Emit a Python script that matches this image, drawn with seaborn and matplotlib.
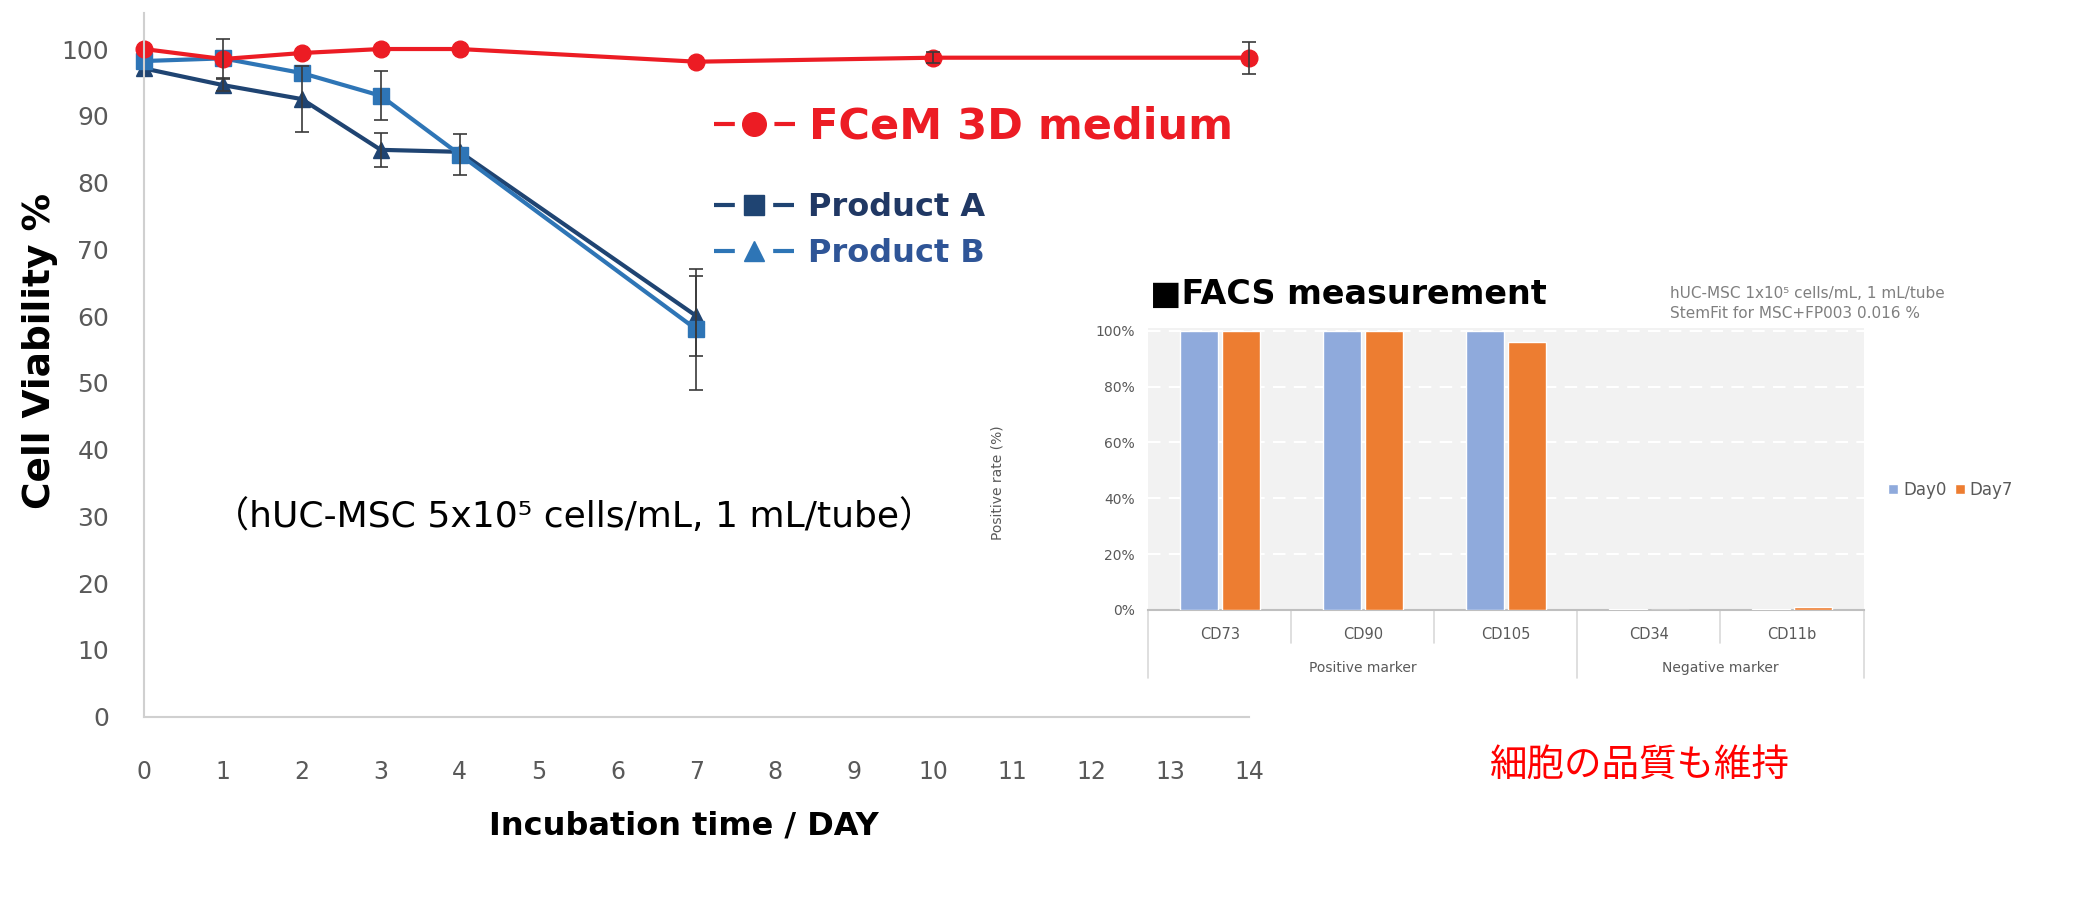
import numpy as np
import pandas as pd
import matplotlib
matplotlib.use("Agg")
import matplotlib.pyplot as plt
import matplotlib.transforms as mtrans
from matplotlib.lines import Line2D
import seaborn as sns

# ---------------- data ----------------
days_fcem = [0, 1, 2, 3, 4, 7, 10, 14]
viab_fcem = [100.0, 98.5, 99.4, 100.0, 100.0, 98.1, 98.7, 98.7]
err_fcem = [0, 0, 0, 0, 0, 0, 0.8, 2.4]

days_prod = [0, 1, 2, 3, 4, 7]
viab_a = [97.1, 94.6, 92.5, 84.9, 84.6, 60.0]
err_a = [0, 0.9, 5.0, 2.5, 0, 6.0]
viab_b = [98.2, 98.6, 96.4, 93.0, 84.2, 58.0]
err_b = [0, 2.9, 0, 3.7, 3.1, 9.0]

x_ticks = list(range(0, 15))
y_ticks = list(range(0, 101, 10))

facs_markers = ["CD73", "CD90", "CD105", "CD34", "CD11b"]
facs_day0 = [100.0, 100.0, 100.0, 0.4, 0.4]
facs_day7 = [100.0, 100.0, 95.8, 0.1, 1.1]
facs_groups = ["Positive marker", "Negative marker"]
facs_group_size = [3, 2]
facs_yticks = [0, 20, 40, 60, 80, 100]

# ---------------- style ----------------
sns.set_theme(style="white")
plt.rcParams["font.family"] = ["DejaVu Sans", "Noto Sans CJK JP"]

RED = "#ec1c24"
NAVY = "#1f4472"
BLUE = "#2e75b6"
GRAY_TXT = "#595959"
SPINE = "#d0d0d0"

fig = plt.figure(figsize=(20.95, 9.13), dpi=100)

# ---------------- main viability chart ----------------
ax = fig.add_axes([0.0687, 0.2150, 0.5275, 0.7708])

df = pd.concat([
    pd.DataFrame({"day": days_fcem, "viability": viab_fcem, "series": "FCeM 3D medium"}),
    pd.DataFrame({"day": days_prod, "viability": viab_a, "series": "Product A"}),
    pd.DataFrame({"day": days_prod, "viability": viab_b, "series": "Product B"}),
], ignore_index=True)

palette = {"FCeM 3D medium": RED, "Product A": NAVY, "Product B": BLUE}
mk = {"FCeM 3D medium": "o", "Product A": "^", "Product B": "s"}
order = ["Product A", "Product B", "FCeM 3D medium"]

sns.lineplot(data=df, x="day", y="viability", hue="series", style="series",
             hue_order=order, style_order=order, palette=palette, markers=mk,
             dashes=False, linewidth=3.0, markersize=12, legend=False, ax=ax,
             sort=False)
for ln in ax.lines:
    ln.set_markeredgecolor(ln.get_color())
    ln.set_markeredgewidth(1.0)
    ln.set_clip_on(False)
    ln.set_zorder(2)

for xs, ys, es in [(days_fcem, viab_fcem, err_fcem),
                   (days_prod, viab_a, err_a),
                   (days_prod, viab_b, err_b)]:
    xs_e = [x for x, e in zip(xs, es) if e > 0]
    ys_e = [y for y, e in zip(ys, es) if e > 0]
    es_e = [e for e in es if e > 0]
    eb = ax.errorbar(xs_e, ys_e, yerr=es_e, fmt="none", ecolor="#3a3a3a",
                     elinewidth=1.2, capsize=5, capthick=1.2, zorder=4)
    for art in eb.lines[1] + eb.lines[2]:
        art.set_clip_on(False)

ax.set_xlim(0, 14)
ax.set_ylim(0, 105.4)
ax.set_xticks(x_ticks)
ax.set_yticks(y_ticks)
ax.set_xticklabels([str(v) for v in x_ticks], fontsize=17, color=GRAY_TXT)
ax.set_yticklabels([str(v) for v in y_ticks], fontsize=18, color=GRAY_TXT)
ax.tick_params(axis="x", direction="out", length=9, width=1.2, color=SPINE, pad=22)
ax.tick_params(axis="y", direction="out", length=7, width=1.2, color=SPINE, pad=18)
for s in ["top", "right"]:
    ax.spines[s].set_visible(False)
for s in ["left", "bottom"]:
    ax.spines[s].set_color(SPINE)
    ax.spines[s].set_linewidth(1.5)

ax.set_xlabel("Incubation time / DAY", fontsize=23, fontweight="bold", color="black")
ax.xaxis.set_label_coords(0.489, -0.156)
ax.xaxis.label.set_va("center")
ax.set_ylabel("Cell Viability %", fontsize=27, fontweight="bold", color="black")
ax.yaxis.set_label_coords(-0.094, 0.52)
ax.yaxis.label.set_va("center")

ax.text(5.45, 30.0, "（hUC-MSC 5x10\u2075 cells/mL, 1 mL/tube）", fontsize=26,
        ha="center", va="center", color="black",
        family=["DejaVu Sans", "Noto Sans CJK JP"])

# legends as drawn in the picture
h_fcem = Line2D([], [], color=RED, lw=3, marker="o", markersize=17,
                linestyle=(0, (5, 9.5)))
leg1 = fig.legend(handles=[h_fcem], labels=["FCeM 3D medium"],
                  loc="center left", bbox_to_anchor=(0.3408, 0.861),
                  frameon=False, fontsize=31, handlelength=1.88,
                  handletextpad=0.33, borderpad=0, borderaxespad=0)
for t in leg1.get_texts():
    t.set_color(RED)
    t.set_fontweight("bold")

h_a = Line2D([], [], color=NAVY, lw=3, marker="s", markersize=14,
             linestyle=(0, (5, 9.2)))
h_b = Line2D([], [], color=BLUE, lw=3, marker="^", markersize=15,
             linestyle=(0, (5, 9.2)))
leg2 = fig.legend(handles=[h_a, h_b], labels=["Product A", "Product B"],
                  loc="center left", bbox_to_anchor=(0.3408, 0.7475),
                  frameon=False, fontsize=23, handlelength=2.5,
                  handletextpad=0.43, labelspacing=0.46, borderpad=0,
                  borderaxespad=0)
for t, c in zip(leg2.get_texts(), ["#203864", "#2f5597"]):
    t.set_color(c)
    t.set_fontweight("bold")

# ---------------- FACS inset ----------------
bx = fig.add_axes([0.5482, 0.3319, 0.3413, 0.3089])
bx.set_facecolor("#f2f2f2")

fdf = pd.concat([
    pd.DataFrame({"marker": facs_markers, "rate": facs_day0, "day": "Day0"}),
    pd.DataFrame({"marker": facs_markers, "rate": facs_day7, "day": "Day7"}),
], ignore_index=True)

sns.barplot(data=fdf, x="marker", y="rate", hue="day", order=facs_markers,
            hue_order=["Day0", "Day7"],
            palette={"Day0": "#8faadc", "Day7": "#ed7d31"},
            width=0.58, gap=0.08, saturation=1, ax=bx, zorder=3)

bx.set_xlim(-0.5, len(facs_markers) - 0.5)
bx.set_ylim(0, 101)
bx.set_yticks(facs_yticks)
bx.set_yticklabels([f"{v}%" for v in facs_yticks], fontsize=10, color=GRAY_TXT)
bx.yaxis.grid(True, color="white", linestyle=(0, (6, 4)), linewidth=1.5, zorder=1)
bx.set_axisbelow(True)
bx.tick_params(axis="y", length=0, pad=10)
bx.tick_params(axis="x", length=0, pad=12, labelsize=10.5, labelcolor=GRAY_TXT)
bx.set_xlabel("")
bx.set_ylabel("Positive rate (%)", fontsize=10, color=GRAY_TXT)
bx.yaxis.set_label_coords(-0.2007, 0.45)
for s in ["top", "right", "left"]:
    bx.spines[s].set_visible(False)
bx.spines["bottom"].set_color("#bfbfbf")
bx.spines["bottom"].set_linewidth(1.5)

trans = mtrans.blended_transform_factory(bx.transData, bx.transAxes)
# separators under the category axis
edges = [-0.5]
for n in facs_group_size:
    edges.append(edges[-1] + n)
for i in range(len(facs_markers) + 1):
    xsep = i - 0.5
    deep = xsep in edges
    bx.plot([xsep, xsep], [0, -0.241 if deep else -0.117], transform=trans,
            color="#d9d9d9", lw=1.2, clip_on=False)
for g, lo, hi in zip(facs_groups, edges[:-1], edges[1:]):
    bx.text((lo + hi) / 2, -0.206, g, transform=trans, ha="center", va="center",
            fontsize=10, color=GRAY_TXT)

leg3 = bx.legend(loc="center left", bbox_to_anchor=(0.9012, 0.4633),
                 bbox_transform=fig.transFigure, ncol=2, frameon=False,
                 fontsize=12, handlelength=0.6, handleheight=0.6,
                 handletextpad=0.3, columnspacing=0.5, borderpad=0,
                 borderaxespad=0)
for t in leg3.get_texts():
    t.set_color(GRAY_TXT)

fig.text(0.5489, 0.678, "\u25a0FACS measurement", fontsize=24, fontweight="bold",
         ha="left", va="center", color="black")
fig.text(0.7971, 0.6676,
         "hUC-MSC 1x10\u2075 cells/mL, 1 mL/tube\nStemFit for MSC+FP003 0.016 %",
         fontsize=11, ha="left", va="center", color="#7f7f7f", linespacing=1.35)

fig.text(0.7828, 0.162, "細胞の品質も維持", fontsize=27, color="#ff0000",
         ha="center", va="center",
         family=["Noto Sans CJK JP", "DejaVu Sans"])

fig.savefig("out.png", dpi=100)
